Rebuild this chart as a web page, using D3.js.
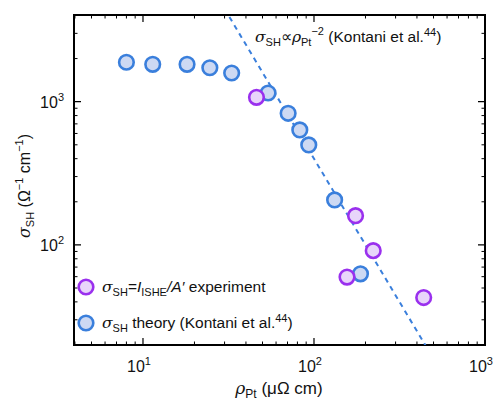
<!DOCTYPE html>
<html>
<head>
<meta charset="utf-8">
<script src="https://cdn.jsdelivr.net/npm/d3@7"></script>
<style>
  body { margin: 0; background: #fff; }
  svg text { font-family: "Liberation Sans", Arial, sans-serif; fill: #111; }
</style>
</head>
<body>
<svg id="chart" width="498" height="400"></svg>
<script>
// theory points (Kontani et al.)
const theoryRho = [8.0, 11.4, 18.1, 24.6, 33.0, 53.9, 70.6, 82.6, 93.2, 132, 187];
const theorySigma = [1885, 1824, 1824, 1726, 1586, 1150, 830, 635, 499, 206, 62.8];
// experiment points
const exptRho = [46.1, 175, 222, 156, 438];
const exptSigma = [1073, 160, 91.2, 59.6, 42.9];
// sigma ∝ rho^-2 guide line
const guideC = 4.0e6;
const xTickVals = [10, 100, 1000];
const yTickVals = [100, 1000];

const svg = d3.select("#chart");
const margin = { left: 74, top: 15, right: 13, bottom: 55 };
const W = 498, H = 400;
const x = d3.scaleLog().domain([3.95, 1000]).range([margin.left, W - margin.right]);
const y = d3.scaleLog().domain([20, 4030]).range([H - margin.bottom, margin.top]);

const blueStroke = "#3a7fdc", blueFill = "#cdd9f3";
const purpleStroke = "#9a30ee", purpleFill = "#e8d5fa";

svg.append("defs").append("clipPath").attr("id", "clip")
  .append("rect").attr("x", margin.left).attr("y", margin.top)
  .attr("width", W - margin.left - margin.right).attr("height", H - margin.top - margin.bottom);

// minor ticks
function minors(domain) {
  const out = [];
  for (let e = -1; e <= 4; e++) {
    for (let k = 2; k <= 9; k++) {
      const v = k * Math.pow(10, e);
      if (v > domain[0] && v < domain[1]) out.push(v);
    }
  }
  return out;
}
function powLabel(sel, v) {
  const e = Math.round(Math.log10(v));
  sel.append("tspan").text("10");
  sel.append("tspan").attr("dy", -7).attr("font-size", 11).text(String(e));
}

const g = svg.append("g");
const xb = y.range()[0], xt = y.range()[1];
const yl = x.range()[0], yr = x.range()[1];

// x ticks (inward, mirrored)
const xMinor = minors(x.domain());
g.selectAll(".xmin").data(xMinor).enter().append("path")
  .attr("d", d => `M${x(d)},${xb}v-3.5M${x(d)},${xt}v3.5`).attr("stroke", "#000").attr("stroke-width", 1);
g.selectAll(".xmaj").data(xTickVals).enter().append("path")
  .attr("d", d => `M${x(d)},${xb}v-7M${x(d)},${xt}v7`).attr("stroke", "#000").attr("stroke-width", 1.2);
g.selectAll(".xlab").data(xTickVals).enter().append("text")
  .attr("x", d => x(d) - 4).attr("y", xb + 27).attr("text-anchor", "middle").attr("font-size", 16)
  .each(function(d) { powLabel(d3.select(this), d); });

// y ticks
const yMinor = minors(y.domain());
g.selectAll(".ymin").data(yMinor).enter().append("path")
  .attr("d", d => `M${yl},${y(d)}h3.5M${yr},${y(d)}h-3.5`).attr("stroke", "#000").attr("stroke-width", 1);
g.selectAll(".ymaj").data(yTickVals).enter().append("path")
  .attr("d", d => `M${yl},${y(d)}h7M${yr},${y(d)}h-7`).attr("stroke", "#000").attr("stroke-width", 1.2);
g.selectAll(".ylab").data(yTickVals).enter().append("text")
  .attr("x", yl - 10).attr("y", d => y(d) + 6).attr("text-anchor", "end").attr("font-size", 16)
  .each(function(d) { powLabel(d3.select(this), d); });

// frame
svg.append("rect").attr("x", yl).attr("y", xt).attr("width", yr - yl).attr("height", xb - xt)
  .attr("fill", "none").attr("stroke", "#000").attr("stroke-width", 2);

// guide line
const guideRho = [30, 500];
svg.append("path").attr("clip-path", "url(#clip)")
  .attr("d", d3.line().x(d => x(d)).y(d => y(guideC / (d * d)))(guideRho))
  .attr("fill", "none").attr("stroke", blueStroke).attr("stroke-width", 2)
  .attr("stroke-dasharray", "5,4.5");

// points
const theory = theoryRho.map((r, i) => ({ r, s: theorySigma[i] }));
const expt = exptRho.map((r, i) => ({ r, s: exptSigma[i] }));
svg.append("g").selectAll("circle").data(theory).enter().append("circle")
  .attr("cx", d => x(d.r)).attr("cy", d => y(d.s)).attr("r", 7.3)
  .attr("fill", blueFill).attr("stroke", blueStroke).attr("stroke-width", 2.6);
svg.append("g").selectAll("circle").data(expt).enter().append("circle")
  .attr("cx", d => x(d.r)).attr("cy", d => y(d.s)).attr("r", 7.3)
  .attr("fill", purpleFill).attr("stroke", purpleStroke).attr("stroke-width", 2.6);

const FS = 15.5, SS = 11;
// annotation
const ann = svg.append("text").attr("x", 255).attr("y", 42).attr("font-size", FS);
ann.append("tspan").attr("font-style", "italic").attr("font-family", "DejaVu Serif, serif").text("σ");
ann.append("tspan").attr("dy", 4).attr("font-size", SS).text("SH");
ann.append("tspan").attr("dy", -4).text("∝");
ann.append("tspan").attr("font-style", "italic").attr("font-family", "DejaVu Serif, serif").text("ρ");
ann.append("tspan").attr("dy", 4).attr("font-size", SS).text("Pt");
ann.append("tspan").attr("dy", -11).attr("font-size", SS).text("−2");
ann.append("tspan").attr("dy", 7).text(" (Kontani et al.");
ann.append("tspan").attr("dy", -6).attr("font-size", SS).text("44");
ann.append("tspan").attr("dy", 6).text(")");

// legend
const legY = [287, 323];
svg.append("circle").attr("cx", 86).attr("cy", legY[0]).attr("r", 7.3)
  .attr("fill", purpleFill).attr("stroke", purpleStroke).attr("stroke-width", 2.6);
svg.append("circle").attr("cx", 86).attr("cy", legY[1]).attr("r", 7.3)
  .attr("fill", blueFill).attr("stroke", blueStroke).attr("stroke-width", 2.6);
const l1 = svg.append("text").attr("x", 102).attr("y", legY[0] + 5).attr("font-size", FS);
l1.append("tspan").attr("font-style", "italic").attr("font-family", "DejaVu Serif, serif").text("σ");
l1.append("tspan").attr("dy", 4).attr("font-size", SS).text("SH");
l1.append("tspan").attr("dy", -4).text("=");
l1.append("tspan").attr("font-style", "italic").text("I");
l1.append("tspan").attr("dy", 4).attr("font-size", SS).text("ISHE");
l1.append("tspan").attr("dy", -4).attr("font-style", "italic").text("/A′");
l1.append("tspan").text(" experiment");
const l2 = svg.append("text").attr("x", 102).attr("y", legY[1] + 5).attr("font-size", FS);
l2.append("tspan").attr("font-style", "italic").attr("font-family", "DejaVu Serif, serif").text("σ");
l2.append("tspan").attr("dy", 4).attr("font-size", SS).text("SH");
l2.append("tspan").attr("dy", -4).text(" theory (Kontani et al.");
l2.append("tspan").attr("dy", -6).attr("font-size", SS).text("44");
l2.append("tspan").attr("dy", 6).text(")");

// axis titles
const xt2 = svg.append("text").attr("x", 279).attr("y", 394).attr("text-anchor", "middle").attr("font-size", 17);
xt2.append("tspan").attr("font-style", "italic").attr("font-family", "DejaVu Serif, serif").text("ρ");
xt2.append("tspan").attr("dy", 4).attr("font-size", 12).text("Pt");
xt2.append("tspan").attr("dy", -4).text(" (μΩ cm)");

const yt2 = svg.append("text").attr("transform", "translate(30,186) rotate(-90)")
  .attr("text-anchor", "middle").attr("font-size", 16);
yt2.append("tspan").attr("font-style", "italic").attr("font-family", "DejaVu Serif, serif").text("σ");
yt2.append("tspan").attr("dy", 4).attr("font-size", 11).text("SH");
yt2.append("tspan").attr("dy", -4).text(" (Ω");
yt2.append("tspan").attr("dy", -7).attr("font-size", 11).text("−1");
yt2.append("tspan").attr("dy", 7).text(" cm");
yt2.append("tspan").attr("dy", -7).attr("font-size", 11).text("−1");
yt2.append("tspan").attr("dy", 7).text(")");
</script>
</body>
</html>
